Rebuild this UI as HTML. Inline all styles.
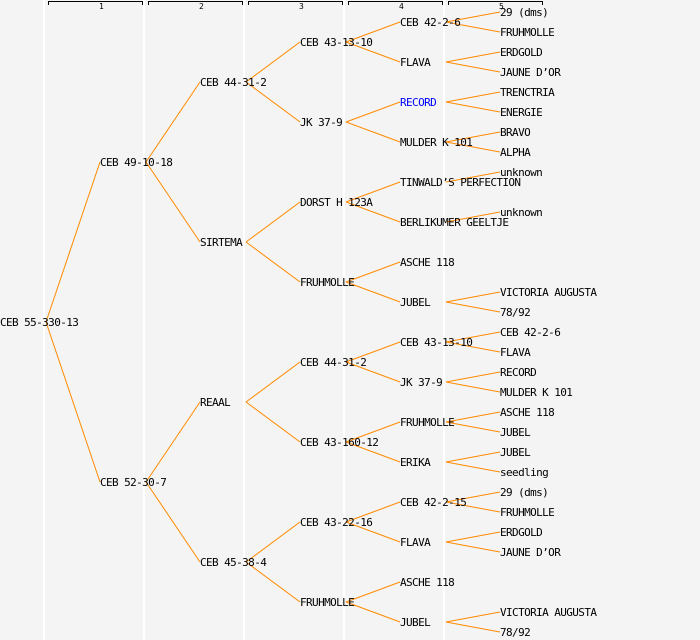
<!DOCTYPE html>
<html><head><meta charset="utf-8"><style>
html,body{margin:0;padding:0;background:#f4f4f4;}
svg{display:block;}
text{font-family:"DejaVu Sans Mono","Liberation Mono",monospace;font-size:11px;letter-spacing:-0.6px;fill:#000;}
.n{font-size:8px;letter-spacing:0;}
line.c{stroke:#ff8a00;stroke-width:1;}
</style></head><body>
<svg width="700" height="640" xmlns="http://www.w3.org/2000/svg">
<rect width="700" height="640" fill="#f4f4f4"/>
<g stroke="#fff" stroke-width="2">
<line x1="44" y1="0" x2="44" y2="640"/><line x1="144" y1="0" x2="144" y2="640"/><line x1="244" y1="0" x2="244" y2="640"/><line x1="344" y1="0" x2="344" y2="640"/><line x1="444" y1="0" x2="444" y2="640"/>
</g>
<g stroke="#000" fill="none" stroke-width="1">
<path d="M48.5 5V1.5H142.5V5"/><path d="M148.5 5V1.5H242.5V5"/><path d="M248.5 5V1.5H342.5V5"/><path d="M348.5 5V1.5H442.5V5"/><path d="M448.5 5V1.5H542.5V5"/>
</g>
<text class="n" x="99" y="9">1</text><text class="n" x="199" y="9">2</text><text class="n" x="299" y="9">3</text><text class="n" x="399" y="9">4</text><text class="n" x="499" y="9">5</text>
<g>
<line class="c" x1="46" y1="322" x2="100" y2="162"/><line class="c" x1="46" y1="322" x2="100" y2="482"/>
<line class="c" x1="146" y1="162" x2="200" y2="82"/><line class="c" x1="146" y1="162" x2="200" y2="242"/>
<line class="c" x1="146" y1="482" x2="200" y2="402"/><line class="c" x1="146" y1="482" x2="200" y2="562"/>
<line class="c" x1="246" y1="82" x2="300" y2="42"/><line class="c" x1="246" y1="82" x2="300" y2="122"/>
<line class="c" x1="246" y1="242" x2="300" y2="202"/><line class="c" x1="246" y1="242" x2="300" y2="282"/>
<line class="c" x1="246" y1="402" x2="300" y2="362"/><line class="c" x1="246" y1="402" x2="300" y2="442"/>
<line class="c" x1="246" y1="562" x2="300" y2="522"/><line class="c" x1="246" y1="562" x2="300" y2="602"/>
<line class="c" x1="346" y1="42" x2="400" y2="22"/><line class="c" x1="346" y1="42" x2="400" y2="62"/>
<line class="c" x1="346" y1="122" x2="400" y2="102"/><line class="c" x1="346" y1="122" x2="400" y2="142"/>
<line class="c" x1="346" y1="202" x2="400" y2="182"/><line class="c" x1="346" y1="202" x2="400" y2="222"/>
<line class="c" x1="346" y1="282" x2="400" y2="262"/><line class="c" x1="346" y1="282" x2="400" y2="302"/>
<line class="c" x1="346" y1="362" x2="400" y2="342"/><line class="c" x1="346" y1="362" x2="400" y2="382"/>
<line class="c" x1="346" y1="442" x2="400" y2="422"/><line class="c" x1="346" y1="442" x2="400" y2="462"/>
<line class="c" x1="346" y1="522" x2="400" y2="502"/><line class="c" x1="346" y1="522" x2="400" y2="542"/>
<line class="c" x1="346" y1="602" x2="400" y2="582"/><line class="c" x1="346" y1="602" x2="400" y2="622"/>
<line class="c" x1="446" y1="22" x2="500" y2="12"/><line class="c" x1="446" y1="22" x2="500" y2="32"/>
<line class="c" x1="446" y1="62" x2="500" y2="52"/><line class="c" x1="446" y1="62" x2="500" y2="72"/>
<line class="c" x1="446" y1="102" x2="500" y2="92"/><line class="c" x1="446" y1="102" x2="500" y2="112"/>
<line class="c" x1="446" y1="142" x2="500" y2="132"/><line class="c" x1="446" y1="142" x2="500" y2="152"/>
<line class="c" x1="446" y1="182" x2="500" y2="172"/>
<line class="c" x1="446" y1="222" x2="500" y2="212"/>
<line class="c" x1="446" y1="302" x2="500" y2="292"/><line class="c" x1="446" y1="302" x2="500" y2="312"/>
<line class="c" x1="446" y1="342" x2="500" y2="332"/><line class="c" x1="446" y1="342" x2="500" y2="352"/>
<line class="c" x1="446" y1="382" x2="500" y2="372"/><line class="c" x1="446" y1="382" x2="500" y2="392"/>
<line class="c" x1="446" y1="422" x2="500" y2="412"/><line class="c" x1="446" y1="422" x2="500" y2="432"/>
<line class="c" x1="446" y1="462" x2="500" y2="452"/><line class="c" x1="446" y1="462" x2="500" y2="472"/>
<line class="c" x1="446" y1="502" x2="500" y2="492"/><line class="c" x1="446" y1="502" x2="500" y2="512"/>
<line class="c" x1="446" y1="542" x2="500" y2="532"/><line class="c" x1="446" y1="542" x2="500" y2="552"/>
<line class="c" x1="446" y1="622" x2="500" y2="612"/><line class="c" x1="446" y1="622" x2="500" y2="632"/>
</g>
<g>
<text x="0" y="326">CEB 55-330-13</text>
<text x="100" y="166">CEB 49-10-18</text><text x="100" y="486">CEB 52-30-7</text>
<text x="200" y="86">CEB 44-31-2</text><text x="200" y="246">SIRTEMA</text><text x="200" y="406">REAAL</text><text x="200" y="566">CEB 45-38-4</text>
<text x="300" y="46">CEB 43-13-10</text><text x="300" y="126">JK 37-9</text><text x="300" y="206">DORST H 123A</text><text x="300" y="286">FRUHMOLLE</text>
<text x="300" y="366">CEB 44-31-2</text><text x="300" y="446">CEB 43-160-12</text><text x="300" y="526">CEB 43-22-16</text><text x="300" y="606">FRUHMOLLE</text>
<text x="400" y="26">CEB 42-2-6</text><text x="400" y="66">FLAVA</text><text x="400" y="106" style="fill:#0000ff">RECORD</text><text x="400" y="146">MULDER K 101</text>
<text x="400" y="186">TINWALD’S PERFECTION</text><text x="400" y="226">BERLIKUMER GEELTJE</text><text x="400" y="266">ASCHE 118</text><text x="400" y="306">JUBEL</text>
<text x="400" y="346">CEB 43-13-10</text><text x="400" y="386">JK 37-9</text><text x="400" y="426">FRUHMOLLE</text><text x="400" y="466">ERIKA</text>
<text x="400" y="506">CEB 42-2-15</text><text x="400" y="546">FLAVA</text><text x="400" y="586">ASCHE 118</text><text x="400" y="626">JUBEL</text>
<text x="500" y="16">29 (dms)</text><text x="500" y="36">FRUHMOLLE</text><text x="500" y="56">ERDGOLD</text><text x="500" y="76">JAUNE D’OR</text>
<text x="500" y="96">TRENCTRIA</text><text x="500" y="116">ENERGIE</text><text x="500" y="136">BRAVO</text><text x="500" y="156">ALPHA</text>
<text x="500" y="176">unknown</text><text x="500" y="216">unknown</text>
<text x="500" y="296">VICTORIA AUGUSTA</text><text x="500" y="316">78/92</text>
<text x="500" y="336">CEB 42-2-6</text><text x="500" y="356">FLAVA</text><text x="500" y="376">RECORD</text><text x="500" y="396">MULDER K 101</text>
<text x="500" y="416">ASCHE 118</text><text x="500" y="436">JUBEL</text><text x="500" y="456">JUBEL</text><text x="500" y="476">seedling</text>
<text x="500" y="496">29 (dms)</text><text x="500" y="516">FRUHMOLLE</text><text x="500" y="536">ERDGOLD</text><text x="500" y="556">JAUNE D’OR</text>
<text x="500" y="616">VICTORIA AUGUSTA</text><text x="500" y="636">78/92</text>
</g>
</svg>
</body></html>
